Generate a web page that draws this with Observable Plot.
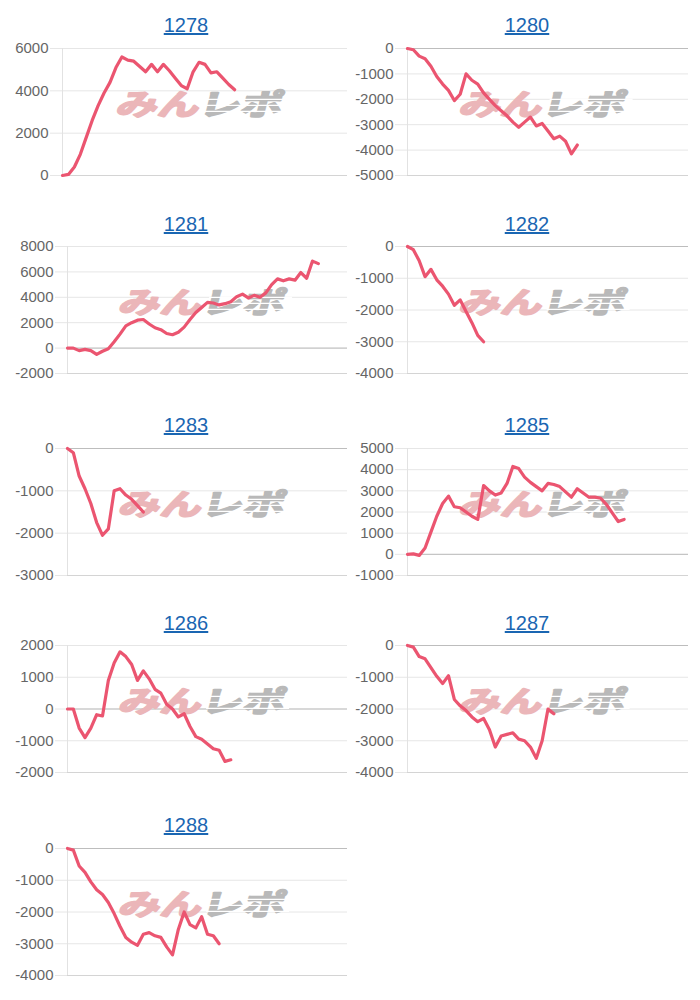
<!DOCTYPE html>
<html>
<head>
<meta charset="utf-8">
<script src="https://cdn.jsdelivr.net/npm/d3@7"></script>
<script src="https://cdn.jsdelivr.net/npm/@observablehq/plot@0.6"></script>
<style>
  html, body { margin: 0; padding: 0; background: #fff; }
  #wrap { position: relative; width: 700px; height: 1000px; overflow: hidden; font-family: "Liberation Sans", Arial, sans-serif; }
  .ttl { position: absolute; width: 200px; text-align: center; font-size: 20px; line-height: 24px; color: #1a66b2; text-decoration: underline; }
  .pan { position: absolute; }
</style>
</head>
<body>
<div id="wrap"></div>
<script>
// ---- data ----
const names = ["1278", "1280", "1281", "1282", "1283", "1285", "1286", "1287", "1288"];

const s1278 = [0, 50, 400, 1000, 1800, 2600, 3300, 3900, 4400, 5100, 5600, 5450, 5400, 5150, 4900, 5250, 4900, 5250, 4950, 4600, 4250, 4100, 4900, 5350, 5250, 4850, 4900, 4600, 4300, 4050];
const s1280 = [0, -50, -300, -400, -700, -1100, -1400, -1650, -2050, -1800, -1000, -1250, -1400, -1750, -2000, -2250, -2450, -2650, -2900, -3100, -2900, -2700, -3050, -2950, -3250, -3550, -3450, -3650, -4150, -3800];
const s1281 = [0, 0, -200, -100, -200, -500, -250, -50, 500, 1100, 1750, 2000, 2200, 2250, 1900, 1600, 1450, 1150, 1050, 1250, 1650, 2250, 2800, 3200, 3600, 3550, 3400, 3500, 3650, 4050, 4250, 3950, 4150, 4000, 4350, 5000, 5450, 5300, 5450, 5350, 5950, 5500, 6850, 6650];
const s1282 = [0, -100, -450, -950, -720, -1050, -1250, -1500, -1850, -1680, -2050, -2400, -2800, -3000];
const s1283 = [0, -100, -650, -950, -1300, -1750, -2050, -1900, -1000, -950, -1100, -1200, -1350, -1500];
const s1285 = [0, 20, -50, 300, 1050, 1800, 2400, 2750, 2250, 2200, 2000, 1800, 1650, 3250, 3000, 2800, 2900, 3350, 4150, 4050, 3650, 3400, 3200, 3000, 3350, 3300, 3200, 2950, 2700, 3100, 2900, 2700, 2700, 2650, 2350, 1950, 1550, 1650];
const s1286 = [0, 0, -600, -900, -600, -180, -220, 900, 1450, 1800, 1650, 1400, 900, 1200, 950, 620, 500, 150, 0, -250, -150, -550, -870, -950, -1100, -1250, -1300, -1650, -1600];
const s1287 = [0, -50, -350, -420, -700, -970, -1200, -950, -1700, -1900, -2050, -2250, -2400, -2300, -2650, -3200, -2850, -2800, -2750, -2950, -3000, -3200, -3550, -3000, -2000, -2150];
const s1288 = [0, -50, -550, -750, -1050, -1300, -1450, -1700, -2050, -2450, -2800, -2950, -3050, -2700, -2650, -2750, -2800, -3100, -3350, -2550, -2000, -2400, -2500, -2150, -2700, -2750, -3000];

const ticks1278 = [0, 2000, 4000, 6000];
const ticks1280 = [-5000, -4000, -3000, -2000, -1000, 0];
const ticks1281 = [-2000, 0, 2000, 4000, 6000, 8000];
const ticks1282 = [-4000, -3000, -2000, -1000, 0];
const ticks1283 = [-3000, -2000, -1000, 0];
const ticks1285 = [-1000, 0, 1000, 2000, 3000, 4000, 5000];
const ticks1286 = [-2000, -1000, 0, 1000, 2000];
const ticks1287 = [-4000, -3000, -2000, -1000, 0];
const ticks1288 = [-4000, -3000, -2000, -1000, 0];

const seriesList = [s1278, s1280, s1281, s1282, s1283, s1285, s1286, s1287, s1288];
const tickList = [ticks1278, ticks1280, ticks1281, ticks1282, ticks1283, ticks1285, ticks1286, ticks1287, ticks1288];
const watermarkA = "みん";
const watermarkB = "レポ";

// ---- layout ----
const rowTop = [48, 246, 448, 644.5, 848];
const titleCy = [24.5, 223.5, 425, 622.5, 825.3];
const plotH = 127;
const mTop = 10, mBot = 10;
const lineColor = "#eb5570";
const wrap = document.getElementById("wrap");

names.forEach((name, k) => {
  const col = k % 2, row = Math.floor(k / 2);
  const x0 = col === 0 ? 0 : 350;
  const ticks = tickList[k];
  const vals = seriesList[k];
  const yDom = [d3.min(ticks), d3.max(ticks)];
  let mLeft, mRight;
  if (col === 0) { mLeft = (name === "1278") ? 62 : 67; mRight = 3; }
  else { mLeft = 57; mRight = 12; }
  const W = 350, H = plotH + mTop + mBot;

  const plot = Plot.plot({
    width: W, height: H,
    marginLeft: mLeft, marginRight: mRight, marginTop: mTop, marginBottom: mBot,
    style: {background: "transparent", fontFamily: "'Liberation Sans', Arial, sans-serif", overflow: "visible"},
    x: {domain: [0, 48], axis: null},
    y: {domain: yDom, axis: null},
    marks: [
      Plot.gridY(ticks, {stroke: "#e6e6e6", strokeOpacity: 1}),
      Plot.axisY(ticks, {tickSize: 12, tickPadding: 2, stroke: "#e6e6e6", strokeOpacity: 1, fill: "#666", fontSize: 15, tickFormat: d => String(d), label: null}),
      Plot.ruleY([0], {stroke: "#bdbdbd", strokeOpacity: 1}),
      Plot.ruleY([yDom[0]], {stroke: "#d4d4d4", strokeOpacity: 1}),
      Plot.ruleX([0], {stroke: "#e2e2e2", strokeOpacity: 1}),
      Plot.lineY(vals, {x: (d, i) => i, y: d => d, stroke: lineColor, strokeWidth: 3.2, strokeLinejoin: "round", strokeLinecap: "round"})
    ]
  });

  // watermark behind the line
  const svg = d3.select(plot);
  const cx = (mLeft + (W - mRight)) / 2 - 4;
  const cy = mTop + plotH / 2 - 7;
  const g = svg.insert("g", ":scope > g:last-of-type")
    .attr("transform", `translate(${cx},${cy}) skewX(-14) scale(1.22,0.86)`);
  const t = g.append("text")
    .attr("text-anchor", "middle")
    .attr("dy", "0.36em")
    .attr("font-family", "'Noto Sans CJK JP', sans-serif")
    .attr("font-weight", "bold")
    .attr("font-size", 34)
    .attr("stroke-width", 2.2)
    .attr("stroke-linejoin", "round");
  t.append("tspan").attr("fill", "#ebb6b9").attr("stroke", "#ebb6b9").text(watermarkA);
  t.append("tspan").attr("fill", "#b9b9b9").attr("stroke", "#b9b9b9").text(watermarkB);
  // speed streaks across the grey half
  [-6, 1, 8].forEach(dy => {
    g.append("line").attr("x1", 4).attr("x2", 72).attr("y1", dy).attr("y2", dy)
      .attr("stroke", "#fff").attr("stroke-width", 1.3);
  });

  const div = document.createElement("div");
  div.className = "pan";
  div.style.left = x0 + "px";
  div.style.top = (rowTop[row] - mTop) + "px";
  div.appendChild(plot);
  wrap.appendChild(div);

  const a = document.createElement("a");
  a.className = "ttl";
  a.textContent = name;
  a.style.left = ((col === 0 ? 186 : 527) - 100) + "px";
  a.style.top = (titleCy[row] - 12) + "px";
  wrap.appendChild(a);
});
</script>
</body>
</html>
